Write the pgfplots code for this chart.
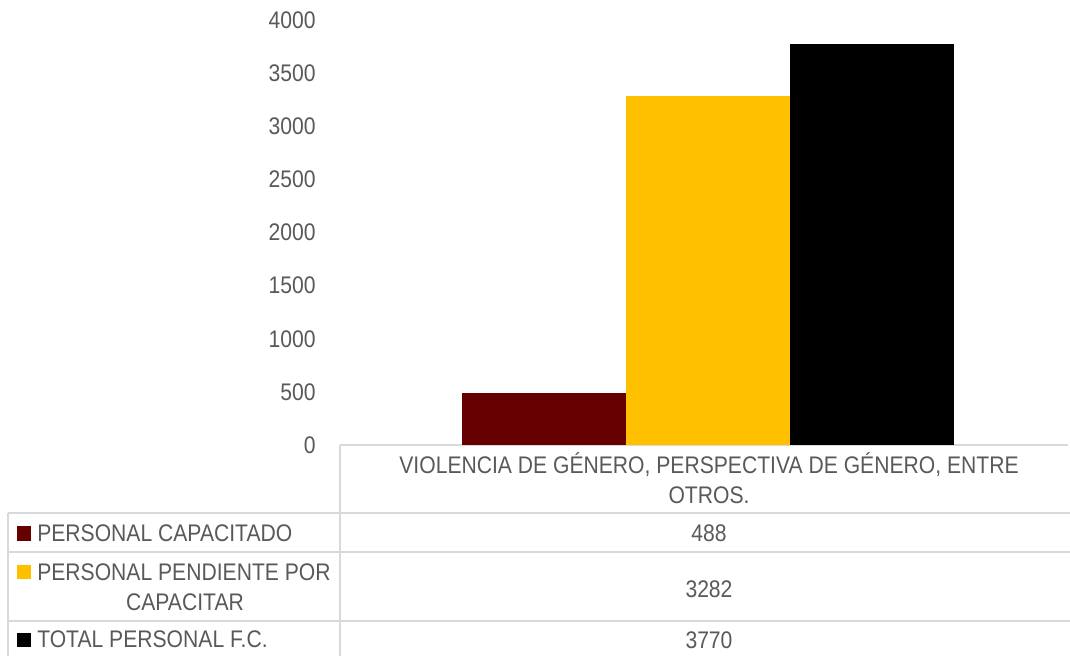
\documentclass[border=0pt]{standalone}
\usepackage{pgfplots}
\pgfplotsset{compat=1.18}
\usepackage{fontspec}
\setmainfont{Liberation Sans}[FakeStretch=0.88]
\definecolor{txt}{HTML}{595959}
\definecolor{gridc}{HTML}{D9D9D9}
\definecolor{cred}{HTML}{660000}
\definecolor{cyel}{HTML}{FFC000}
\newcommand\tf{\fontsize{18}{21}\selectfont}
\begin{document}
\begin{tikzpicture}
\begin{axis}[
  at={(0,0)}, anchor=south west,
  scale only axis, width=546pt, height=318.75pt,
  xmin=0, xmax=1, ymin=0, ymax=4000,
  ytick={0,500,...,4000}, xtick=\empty,
  axis x line*=bottom, axis y line*=left,
  y axis line style={draw=none},
  x axis line style={draw=gridc, line width=0.9pt},
  major tick length=0pt,
  ytick style={draw=none},
  yticklabel style={font=\tf, text=txt, anchor=east, inner sep=0pt, xshift=-18pt},
  /pgf/number format/assume math mode=true,
  /pgf/number format/1000 sep={},
  scaled y ticks=false,
  ybar=0pt, bar width=123pt,
]
\addplot[fill=cred, draw=none] coordinates {(0.506,488)};
\addplot[fill=cyel, draw=none] coordinates {(0.506,3282)};
\addplot[fill=black, draw=none] coordinates {(0.506,3770)};
\end{axis}
\begin{scope}[shift={(-255pt,333.75pt)}, x=0.75pt, y=-0.75pt]
  \draw[gridc, line width=0.9pt] (340,445) -- (340,656);
  \draw[gridc, line width=0.9pt] (8,513) -- (8,656);
  \draw[gridc, line width=0.9pt] (8,513) -- (1070,513);
  \draw[gridc, line width=0.9pt] (8,552) -- (1070,552);
  \draw[gridc, line width=0.9pt] (8,621) -- (1070,621);
  \begin{scope}[every node/.style={font=\tf, text=txt, inner sep=0pt}]
    \node[anchor=base] at (709,474) {VIOLENCIA DE GÉNERO, PERSPECTIVA DE GÉNERO, ENTRE};
    \node[anchor=base] at (709,504) {OTROS.};
    \node[anchor=base] at (709,542) {488};
    \node[anchor=base] at (709,597) {3282};
    \node[anchor=base] at (709,648) {3770};
    \node[anchor=base west] at (37,542) {PERSONAL CAPACITADO};
    \node[anchor=base west] at (37,581) {PERSONAL PENDIENTE POR};
    \node[anchor=base] at (185,610) {CAPACITAR};
    \node[anchor=base west] at (37,647) {TOTAL PERSONAL F.C.};
  \end{scope}
  \fill[cred] (17,526) rectangle (31,541);
  \fill[cyel] (17,565) rectangle (31,579);
  \fill[black] (17,633) rectangle (31,647);
\end{scope}
\pgfresetboundingbox
\useasboundingbox (-255pt,-158.25pt) rectangle (547.5pt,333.75pt);
\end{tikzpicture}
\end{document}
